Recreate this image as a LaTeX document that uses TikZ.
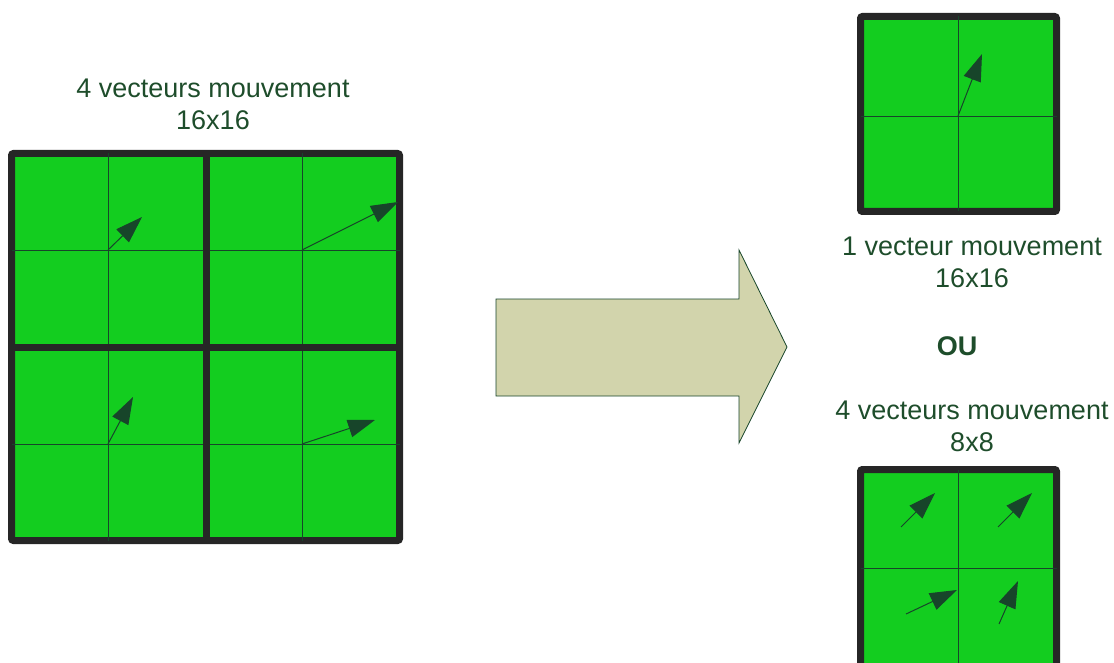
\documentclass[tikz,border=0pt]{standalone}
\usepackage{fontspec}
\setmainfont{Liberation Sans}
\usetikzlibrary{arrows.meta}
\definecolor{Block}{HTML}{13CD1F}
\definecolor{Frame}{HTML}{262626}
\definecolor{Vec}{HTML}{17452A}
\definecolor{Label}{HTML}{1E4D2B}
\definecolor{Big}{HTML}{D2D4AC}

\begin{document}
\begin{tikzpicture}[x=1pt,y=-1pt,
  frame/.style={draw=Frame,line width=7pt,rounded corners=2pt,fill=Block},
  split/.style={draw=Frame,line width=7pt},
  grid/.style={draw=Vec,line width=0.9pt},
  mv/.style={draw=Vec,line width=1pt,-{Triangle[length=27pt,width=18pt]}},
  lbl/.style={text=Label,font=\fontsize{27}{32}\selectfont,align=center}]
  \useasboundingbox (0,0) rectangle (1114,663);

  % macroblock 16x16 with 4 vectors
  \draw[frame] (11.5,153.5) rectangle (399.5,540.5);
  \foreach \p in {108,302} {
    \draw[grid] (\p,153.5) -- (\p,540.5);
  }
  \foreach \p in {250,444} {
    \draw[grid] (11.5,\p) -- (399.5,\p);
  }
  \draw[split] (206.5,153.5) -- (206.5,540.5);
  \draw[split] (11.5,347) -- (399.5,347);

  % result blocks
  \draw[frame] (860.5,16.5) rectangle (1056.5,211.5);
  \draw[grid] (958,16.5) -- (958,211.5);
  \draw[grid] (860.5,116) -- (1056.5,116);
  \draw[frame] (860.5,469.5) rectangle (1056.5,666.5);
  \draw[grid] (958,469.5) -- (958,666.5);
  \draw[grid] (860.5,568) -- (1056.5,568);

  % motion vectors
  \foreach \x/\y/\u/\v [count=\i] in {108/250/142/217, 302/250/398/202,
      108/444/133/397, 302/444/375/420, 958/116/982/54,
      901/527/935/493, 998/527/1032/493, 906/614/957/590, 999/624/1018/581} {
    \coordinate (s\i) at (\x,\y);
    \coordinate (t\i) at (\u,\v);
    \draw[mv] (s\i) -- (t\i);
  }

  % big arrow
  \draw[draw=Vec,fill=Big,line width=0.8pt] (496,299) -- (739,299) -- (739,250)
    -- (787,347) -- (739,443) -- (739,396) -- (496,396) -- cycle;

  \node[lbl] (in) at (213,104) {4 vecteurs mouvement\\16x16};
  \node[lbl] (one) at (972,262) {1 vecteur mouvement\\16x16};
  \node[lbl,font=\fontsize{27}{32}\selectfont\bfseries] (or) at (957,346) {OU};
  \node[lbl] (four) at (972,426) {4 vecteurs mouvement\\8x8};
\end{tikzpicture}
\end{document}
